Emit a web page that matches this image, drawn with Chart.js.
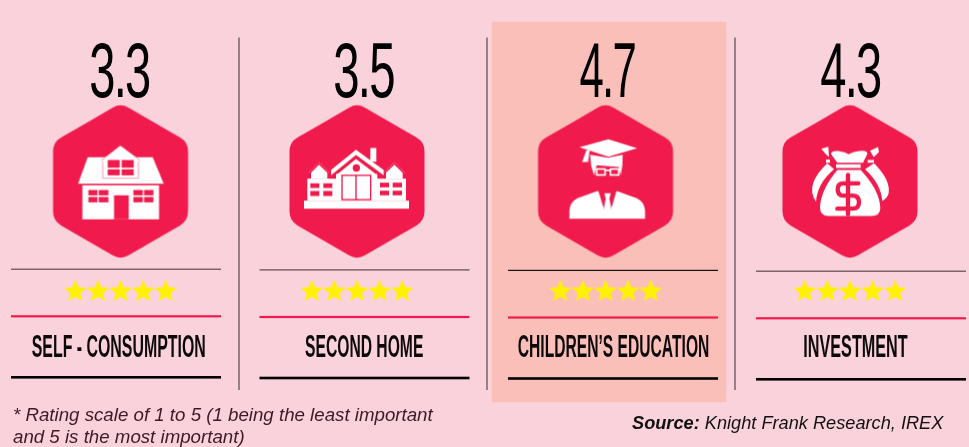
<!DOCTYPE html>
<html>
<head>
<meta charset="utf-8">
<script src="https://cdn.jsdelivr.net/npm/chart.js@4"></script>
<style>
  html, body { margin: 0; padding: 0; background: #fad2dc; overflow: hidden; }
  canvas { display: block; }
</style>
</head>
<body>
<canvas id="myChart" width="969" height="447"></canvas>
<script>
// data
const categories = ['SELF - CONSUMPTION', 'SECOND HOME', 'CHILDREN\u2019S EDUCATION', 'INVESTMENT'];
const ratings = [3.3, 3.5, 4.7, 4.3];
const starCounts = [5, 5, 5, 5];
const footnoteLines = ['* Rating scale of 1 to 5 (1 being the least important', 'and 5 is the most important)'];
const sourceLabel = 'Source:';
const sourceText = ' Knight Frank Research, IREX';

// layout of the infographic, in px. the y scale runs 0..447 top down
const RED = '#f01b4c';
const rows = { bandTop: 22, bandBottom: 402, value: 96.5, icon: 181.5, stars: 291, label: 357 };
const hexNudge = [-0.6, -6.4, -0.1, 2.1];
const valueNudge = [-1.8, 0.1, 1.6, 2.4];
const labelNudge = [-2.4, 0.8, 7.9, 7.6];
const ruleNudge = [-5.1, 1.1, 7.4, 13.1];
const ruleDrop = [0, 0.7, 1.2, 2];
const valueWidths = [60, 60.4, 55.7, 60];
const labelWidths = [174, 118.3, 191.6, 104.4];
const dividerX = [239, 487, 735];
const starStep = 22.6;

function makeCanvas(w, h) {
  const c = document.createElement('canvas');
  c.width = w;
  c.height = h;
  return c;
}

function poly(g, pts) {
  g.beginPath();
  pts.forEach((p, i) => (i ? g.lineTo(p[0], p[1]) : g.moveTo(p[0], p[1])));
  g.closePath();
  g.fill();
}

function rects(g, list) {
  list.forEach(r => g.fillRect(r[0], r[1], r[2] - r[0], r[3] - r[1]));
}

// icons are sketched in 3x units, origin given by the caller
function drawHouse(g) {
  g.fillStyle = '#fff';
  poly(g, [[263, 412], [458, 412], [491, 491], [234, 491]]);
  poly(g, [[304, 420], [361, 377], [420, 420], [415, 474], [308, 474]]);
  g.strokeStyle = '#f7678a';
  g.lineWidth = 2;
  g.beginPath();
  g.moveTo(308, 424); g.lineTo(308, 475); g.lineTo(415, 475); g.lineTo(415, 424);
  g.moveTo(303, 422); g.lineTo(361, 376); g.lineTo(421, 422);
  g.stroke();
  g.fillStyle = RED;
  rects(g, [[323, 420, 359, 443], [365, 420, 401, 443], [323, 448, 359, 466], [365, 448, 401, 466]]);
  g.fillStyle = '#fff';
  rects(g, [[247, 496, 477, 598]]);
  g.fillStyle = RED;
  rects(g, [[342, 526, 386, 598],
    [265, 510, 292, 526], [296, 510, 325, 526], [265, 531, 292, 547], [296, 531, 325, 547],
    [400, 510, 428, 526], [432, 510, 460, 526], [400, 531, 428, 547], [432, 531, 460, 547]]);
}

function drawEstate(g) {
  g.fillStyle = '#fff';
  rects(g, [[162, 542, 477, 566], [172, 476, 262, 542], [380, 476, 468, 542], [258, 462, 382, 542], [361, 384, 379, 425]]);
  poly(g, [[183, 458], [207, 434], [232, 458], [232, 476], [183, 476]]);
  poly(g, [[408, 458], [433, 434], [458, 458], [458, 476], [408, 476]]);
  poly(g, [[243, 450], [318, 389], [401, 450], [401, 466], [318, 405], [243, 466]]);
  poly(g, [[258, 466], [318, 417], [382, 466]]);
  g.strokeStyle = '#f7678a';
  g.lineWidth = 2;
  g.beginPath();
  g.moveTo(175, 459); g.lineTo(207, 427); g.lineTo(240, 459);
  g.moveTo(400, 459); g.lineTo(433, 427); g.lineTo(467, 459);
  g.stroke();
  g.fillStyle = RED;
  g.beginPath();
  g.arc(319, 444, 11, 0, Math.PI * 2);
  g.fill();
  rects(g, [[181, 490, 208, 504], [220, 490, 247, 504], [181, 513, 208, 528], [220, 513, 247, 528],
    [390, 488, 417, 502], [428, 488, 456, 502], [390, 512, 417, 526], [428, 512, 456, 526]]);
  g.strokeStyle = RED;
  g.lineWidth = 4;
  g.strokeRect(276, 466, 86, 73);
  g.beginPath();
  g.moveTo(318, 466); g.lineTo(318, 539);
  g.stroke();
}

function drawGraduate(g) {
  g.fillStyle = '#fff';
  poly(g, [[268, 382], [355, 358], [441, 385], [355, 410]]);
  poly(g, [[289, 391], [299, 389], [294, 426], [276, 426]]);
  poly(g, [[300, 404], [354, 413], [398, 404], [397, 436], [392, 466], [386, 441], [320, 436], [312, 466], [304, 440]]);
  g.strokeStyle = '#fff';
  g.lineWidth = 5;
  g.strokeRect(320, 447, 25, 18);
  g.strokeRect(361, 447, 25, 18);
  g.beginPath();
  g.moveTo(345, 451); g.lineTo(361, 451);
  g.stroke();
  g.beginPath();
  g.moveTo(238, 596);
  g.lineTo(238, 572);
  g.quadraticCurveTo(240, 546, 262, 535);
  g.lineTo(322, 513);
  g.lineTo(380, 513);
  g.lineTo(440, 535);
  g.quadraticCurveTo(463, 546, 465, 572);
  g.lineTo(465, 596);
  g.closePath();
  g.fill();
  g.fillStyle = RED;
  poly(g, [[324, 511], [342, 568], [363, 568], [380, 511]]);
  g.fillStyle = '#fff';
  poly(g, [[343, 520], [362, 520], [358, 536], [364, 566], [352, 572], [341, 566], [347, 536]]);
}

function drawBags(g) {
  g.fillStyle = '#fff';
  // side bags
  g.beginPath();
  g.moveTo(292, 430);
  g.quadraticCurveTo(240, 480, 247, 520);
  g.quadraticCurveTo(250, 535, 258, 545);
  g.quadraticCurveTo(262, 490, 312, 448);
  g.closePath();
  g.fill();
  g.beginPath();
  g.moveTo(432, 430);
  g.quadraticCurveTo(482, 480, 476, 520);
  g.quadraticCurveTo(472, 535, 457, 543);
  g.quadraticCurveTo(452, 490, 405, 448);
  g.closePath();
  g.fill();
  poly(g, [[274, 386], [295, 380], [297, 411], [285, 400]]);
  poly(g, [[420, 392], [444, 381], [447, 396], [431, 412]]);
  rects(g, [[288, 419, 300, 428], [413, 420, 432, 428]]);
  // main bag
  g.beginPath();
  g.moveTo(303, 402);
  g.quadraticCurveTo(303, 392, 325, 393);
  g.quadraticCurveTo(345, 396, 356, 403);
  g.quadraticCurveTo(370, 394, 395, 392);
  g.quadraticCurveTo(413, 392, 412, 402);
  g.lineTo(399, 428);
  g.lineTo(322, 428);
  g.closePath();
  g.fill();
  rects(g, [[318, 433, 392, 444]]);
  g.beginPath();
  g.moveTo(322, 450);
  g.lineTo(392, 450);
  g.quadraticCurveTo(449, 510, 451, 565);
  g.quadraticCurveTo(450, 588, 425, 588);
  g.lineTo(295, 588);
  g.quadraticCurveTo(270, 588, 270, 562);
  g.quadraticCurveTo(272, 510, 322, 450);
  g.closePath();
  g.fill();
  // dollar sign
  g.strokeStyle = RED;
  g.lineCap = 'round';
  g.lineWidth = 13;
  g.beginPath();
  g.moveTo(354, 465); g.lineTo(354, 583);
  g.moveTo(385, 490); g.lineTo(340, 490);
  g.quadraticCurveTo(323, 490, 323, 508);
  g.quadraticCurveTo(323, 527, 340, 527);
  g.lineTo(368, 527);
  g.quadraticCurveTo(387, 527, 387, 547);
  g.quadraticCurveTo(387, 566, 368, 566);
  g.lineTo(322, 566);
  g.stroke();
}

const iconSketches = [
  { draw: drawHouse, cx: 361.5 },
  { draw: drawEstate, cx: 321 },
  { draw: drawGraduate, cx: 346.5 },
  { draw: drawBags, cx: 360 }
];

function makeHexagon(sketch) {
  const c = makeCanvas(140, 156);
  const g = c.getContext('2d');
  g.translate(70, 78);
  const hw = 67.5, R = 78.5;
  const pts = [[0, -R], [hw, -R / 2], [hw, R / 2], [0, R], [-hw, R / 2], [-hw, -R / 2]];
  g.fillStyle = RED;
  g.beginPath();
  g.moveTo(-hw / 2, -0.75 * R);
  pts.forEach((p, i) => {
    const next = pts[(i + 1) % 6];
    g.arcTo(p[0], p[1], next[0], next[1], 16);
  });
  g.closePath();
  g.fill();
  g.scale(1 / 3, 1 / 3);
  g.translate(-sketch.cx, -484.5);
  sketch.draw(g);
  return c;
}

function makeStar() {
  const c = makeCanvas(26, 26);
  const g = c.getContext('2d');
  g.translate(13, 13.5);
  g.fillStyle = '#fff200';
  g.beginPath();
  for (let i = 0; i < 10; i++) {
    const r = i % 2 ? 5.3 : 11.8;
    const a = -Math.PI / 2 + i * Math.PI / 5;
    g.lineTo(r * Math.cos(a), r * Math.sin(a));
  }
  g.closePath();
  g.fill();
  return c;
}

const hexImages = iconSketches.map(makeHexagon);
const starImage = makeStar();

// one star point per rating star, fanned out around the column
const starPoints = [];
const starDx = [];
categories.forEach((name, i) => {
  for (let s = 0; s < starCounts[i]; s++) {
    starPoints.push({ x: name, y: rows.stars });
    starDx.push(hexNudge[i] + (s - (starCounts[i] - 1) / 2) * starStep);
  }
});

const topRating = Math.max(...ratings);

// elements have no offset option, so shift them once they are laid out
const nudgePlugin = {
  id: 'nudge',
  afterDatasetsUpdate(chart) {
    chart.data.datasets.forEach((ds, d) => {
      if (!ds.dx) return;
      chart.getDatasetMeta(d).data.forEach((el, i) => { el.x += ds.dx[i] || 0; });
    });
  }
};

function fitText(g, text, cx, baseline, width, font, spacing) {
  g.save();
  g.font = font;
  g.letterSpacing = spacing || '0px';
  g.textAlign = 'center';
  g.textBaseline = 'alphabetic';
  const sx = width / g.measureText(text).width;
  g.translate(cx, baseline);
  g.scale(sx, 1);
  g.fillText(text, 0, 0);
  g.restore();
}

const furniturePlugin = {
  id: 'furniture',
  afterDatasetsDraw(chart) {
    const g = chart.ctx;
    const xs = chart.scales.x;
    const ys = chart.scales.y;

    // vertical dividers
    g.fillStyle = '#75646b';
    dividerX.forEach(x => g.fillRect(x - 0.75, ys.getPixelForValue(37.5), 1.5, 352.5));

    // the three rules of each column
    categories.forEach((name, i) => {
      const cx = xs.getPixelForValue(i) + ruleNudge[i];
      const left = cx - 105;
      const drop = ruleDrop[i];
      g.fillStyle = i === 2 ? '#1a0f10' : '#5d4b50';
      g.fillRect(left, ys.getPixelForValue(268.6 + drop), 210, 1.2);
      g.fillStyle = RED;
      g.fillRect(left, ys.getPixelForValue(315.2 + drop), 210, 2.2);
      g.fillStyle = '#000';
      g.fillRect(left, ys.getPixelForValue(376 + drop), 210, 2.6);
    });

    // rating numbers and category names
    g.fillStyle = '#000';
    ratings.forEach((v, i) => {
      const cx = xs.getPixelForValue(i);
      fitText(g, v.toFixed(1), cx + valueNudge[i], ys.getPixelForValue(rows.value), valueWidths[i], '78px "Liberation Sans"', '-3px');
    });
    g.fillStyle = '#0c0a0a';
    categories.forEach((name, i) => {
      const cx = xs.getPixelForValue(i);
      fitText(g, name, cx + labelNudge[i], ys.getPixelForValue(rows.label), labelWidths[i], 'bold 32px "Liberation Sans"');
    });

    // footnote and source
    g.save();
    g.textAlign = 'left';
    g.fillStyle = '#3c1a26';
    g.font = 'italic 18.7px "Liberation Sans"';
    g.fillText(footnoteLines[0], 13, 421);
    g.fillText(footnoteLines[1], 13, 443);
    g.fillStyle = '#111';
    g.font = 'italic bold 18.2px "Liberation Sans"';
    g.fillText(sourceLabel, 632, 429);
    const w = g.measureText(sourceLabel).width;
    g.font = 'italic 18.2px "Liberation Sans"';
    g.fillText(sourceText, 632 + w, 429);
    g.restore();
  }
};

new Chart(document.getElementById('myChart'), {
  data: {
    labels: categories,
    datasets: [
      {
        type: 'bar',
        label: 'highlight',
        data: ratings.map(v => (v === topRating ? [rows.bandTop, rows.bandBottom] : null)),
        backgroundColor: '#fbbfb9',
        barThickness: 234,
        dx: [0, 0, 3.4, 0],
        order: 3
      },
      {
        type: 'line',
        label: 'icons',
        data: categories.map(name => ({ x: name, y: rows.icon })),
        showLine: false,
        pointStyle: ctx => hexImages[ctx.dataIndex],
        dx: hexNudge,
        order: 2
      },
      {
        type: 'line',
        label: 'stars',
        data: starPoints,
        showLine: false,
        pointStyle: starImage,
        dx: starDx,
        order: 1
      }
    ]
  },
  options: {
    responsive: false,
    animation: false,
    layout: { padding: 0, autoPadding: false },
    events: [],
    plugins: { legend: { display: false }, title: { display: false }, tooltip: { enabled: false } },
    scales: {
      x: { type: 'category', display: false, offset: true },
      y: { type: 'linear', display: false, min: 0, max: 447, reverse: true }
    }
  },
  plugins: [nudgePlugin, furniturePlugin]
});
</script>
</body>
</html>
